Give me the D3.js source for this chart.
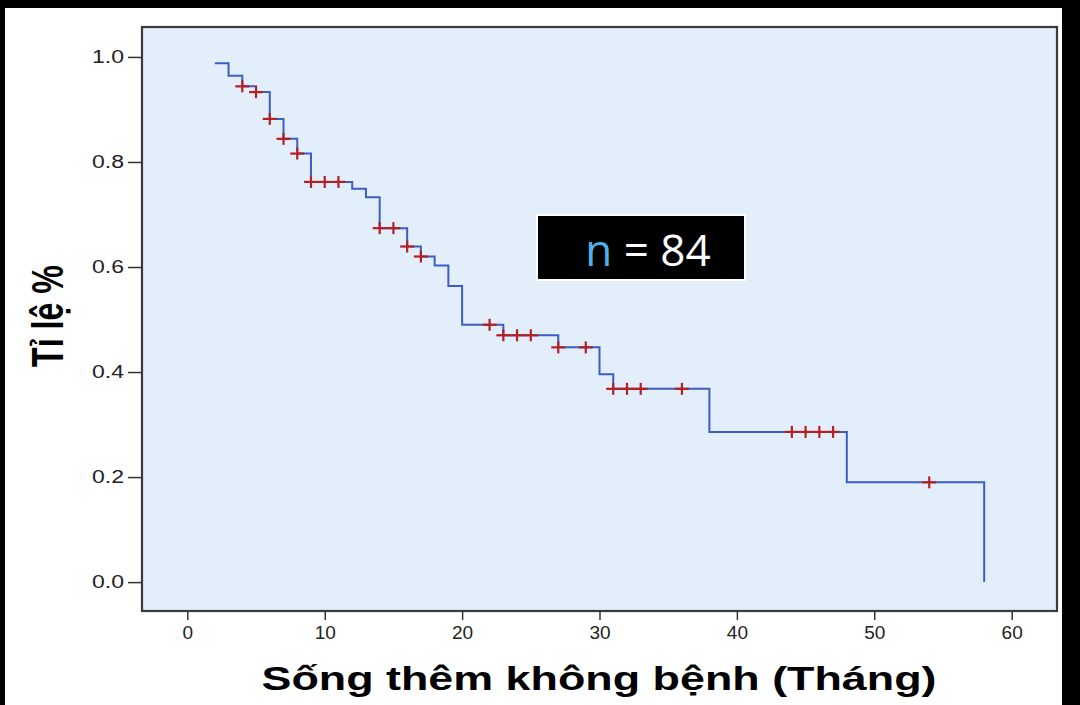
<!DOCTYPE html>
<html>
<head>
<meta charset="utf-8">
<script src="https://cdn.jsdelivr.net/npm/d3@7"></script>
<style>
  html, body { margin: 0; padding: 0; background: #000; }
  svg { display: block; }
</style>
</head>
<body>
<svg id="chart" width="1080" height="705"></svg>
<script>
// ---- Data ----
const eventTimes  = [2, 3, 4, 5, 6, 7, 8, 9, 12, 13, 14, 16, 17, 18, 19, 20, 23, 27, 30, 31, 38, 48, 58];
const survival    = [0.988, 0.964, 0.944, 0.933, 0.882, 0.844, 0.816, 0.762, 0.749, 0.733, 0.674, 0.639, 0.620, 0.603, 0.564, 0.490, 0.470, 0.447, 0.396, 0.368, 0.286, 0.190, 0.0];
const censorTimes = [4, 5, 6, 7, 8, 9, 10, 11, 14, 15, 16, 17, 22, 23, 24, 25, 27, 29, 31, 32, 33, 36, 44, 45, 46, 47, 54];
const xTicks = [0, 10, 20, 30, 40, 50, 60];
const yTicks = [0.0, 0.2, 0.4, 0.6, 0.8, 1.0];
const xTitle = "Sống thêm không bệnh (Tháng)";
const yTitle = "Tỉ lệ %";
const nLabel = "n";
const nValue = "= 84";

// ---- Layout ----
const svg = d3.select("#chart");
const W = 1080, H = 705;
const frame = { left: 142, right: 1057, top: 27, bottom: 611 };

svg.append("rect").attr("x", 0).attr("y", 0).attr("width", W).attr("height", H).attr("fill", "#000");
svg.append("rect").attr("x", 5).attr("y", 8).attr("width", 1057).attr("height", H - 8).attr("fill", "#fff");

const x = d3.scaleLinear().domain([-3.3, 63.3]).range([frame.left, frame.right]);
const y = d3.scaleLinear().domain([-0.055, 1.057]).range([frame.bottom, frame.top]);

// plot background
svg.append("rect")
  .attr("x", frame.left).attr("y", frame.top)
  .attr("width", frame.right - frame.left).attr("height", frame.bottom - frame.top)
  .attr("fill", "#e2eefa");

// step function S(t)
function S(t) {
  let s = 1;
  for (let i = 0; i < eventTimes.length; i++) if (eventTimes[i] <= t) s = survival[i];
  return s;
}

const pts = eventTimes.map((t, i) => [t, survival[i]]);
const line = d3.line().x(d => x(d[0])).y(d => y(d[1])).curve(d3.curveStepAfter);

svg.append("path")
  .attr("d", line(pts))
  .attr("fill", "none")
  .attr("stroke", "#3d5dc6")
  .attr("stroke-width", 2);

// censor marks
const cg = svg.append("g");
censorTimes.forEach(t => {
  const cx = x(t), cy = y(S(t));
  cg.append("line").attr("x1", cx - 7).attr("x2", cx + 7).attr("y1", cy).attr("y2", cy)
    .attr("stroke", "#b51f24").attr("stroke-width", 2.2);
  cg.append("line").attr("x1", cx).attr("x2", cx).attr("y1", cy - 6).attr("y2", cy + 6)
    .attr("stroke", "#b51f24").attr("stroke-width", 2.2);
});

// frame
svg.append("rect")
  .attr("x", frame.left).attr("y", frame.top)
  .attr("width", frame.right - frame.left).attr("height", frame.bottom - frame.top)
  .attr("fill", "none").attr("stroke", "#3a3a3a").attr("stroke-width", 2.2);

// axes
const xAxis = svg.append("g")
  .attr("transform", `translate(0,${frame.bottom})`)
  .call(d3.axisBottom(x).tickValues(xTicks).tickSize(9).tickPadding(6).tickFormat(d3.format("d")));
xAxis.select(".domain").remove();
xAxis.selectAll("line").attr("stroke", "#333").attr("stroke-width", 1.5);
xAxis.selectAll("text")
  .attr("font-family", "Liberation Sans, Arial, sans-serif")
  .attr("font-size", 19).attr("fill", "#222");

const yAxis = svg.append("g")
  .attr("transform", `translate(${frame.left},0)`)
  .call(d3.axisLeft(y).tickValues(yTicks).tickSize(14).tickPadding(4).tickFormat(d3.format(".1f")));
yAxis.select(".domain").remove();
yAxis.selectAll("line").attr("stroke", "#333").attr("stroke-width", 1.5);
yAxis.selectAll("text")
  .attr("font-family", "Liberation Sans, Arial, sans-serif")
  .attr("font-size", 18).attr("fill", "#222")
  .attr("textLength", 32).attr("lengthAdjust", "spacingAndGlyphs");

// axis titles
svg.append("text")
  .attr("x", 599).attr("y", 690)
  .attr("text-anchor", "middle")
  .attr("font-family", "Liberation Sans, Arial, sans-serif")
  .attr("font-weight", "bold").attr("font-size", 33)
  .attr("textLength", 675).attr("lengthAdjust", "spacingAndGlyphs")
  .attr("fill", "#000")
  .text(xTitle);

svg.append("text")
  .attr("transform", "translate(63,316) rotate(-90)")
  .attr("text-anchor", "middle")
  .attr("font-family", "Liberation Sans, Arial, sans-serif")
  .attr("font-weight", "bold").attr("font-size", 44)
  .attr("textLength", 102).attr("lengthAdjust", "spacingAndGlyphs")
  .attr("fill", "#000")
  .text(yTitle);

// n = 84 box
svg.append("rect")
  .attr("x", 537).attr("y", 215).attr("width", 208).attr("height", 65)
  .attr("fill", "#000").attr("stroke", "#fff").attr("stroke-width", 2);
const nt = svg.append("text")
  .attr("x", 648).attr("y", 266)
  .attr("text-anchor", "middle")
  .attr("font-family", "Open Sans, Liberation Sans, Arial, sans-serif")
  .attr("font-size", 44);
nt.append("tspan").attr("fill", "#4fb3ea").text(nLabel);
nt.append("tspan").attr("fill", "#fff").text(" " + nValue);
</script>
</body>
</html>
